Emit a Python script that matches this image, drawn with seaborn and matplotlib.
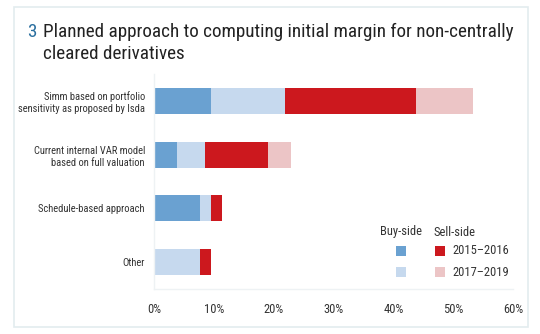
import matplotlib
matplotlib.use("Agg")
import matplotlib.pyplot as plt
import seaborn as sns
import pandas as pd
import numpy as np
from matplotlib.patches import Rectangle
from matplotlib import font_manager

categories = ["Simm based on portfolio\nsensitivity as proposed by Isda",
              "Current internal VAR model\nbased on full valuation",
              "Schedule-based approach",
              "Other"]
buy_2015_2016 = [9.5, 3.8, 7.7, 0.0]
buy_2017_2019 = [12.4, 4.7, 1.8, 7.7]
sell_2015_2016 = [21.9, 10.5, 1.9, 1.8]
sell_2017_2019 = [9.5, 3.9, 0.0, 0.0]
series_names = ["Buy-side 2015–2016", "Buy-side 2017–2019",
                "Sell-side 2015–2016", "Sell-side 2017–2019"]
x_ticks = [0, 10, 20, 30, 40, 50, 60]
x_tick_labels = ["0%", "10%", "20%", "30%", "40%", "50%", "60%"]

colors = ["#6aa1d1", "#c6d9ee", "#cc181e", "#ecc5c6"]
text_color = "#333333"

sns.set_theme(style="white")
avail = {f.name for f in font_manager.fontManager.ttflist}
fam = [f for f in ["Liberation Sans Narrow", "Roboto Condensed", "DejaVu Sans Condensed", "DejaVu Sans"] if f in avail]
plt.rcParams["font.family"] = fam

fig = plt.figure(figsize=(5.4, 3.34), dpi=100)
ax = fig.add_axes([154/540, 1-289/334, (513-154)/540, (289-74)/334])

series = [buy_2015_2016, buy_2017_2019, sell_2015_2016, sell_2017_2019]
cum = np.cumsum(np.array(series), axis=0)
for i in range(len(series) - 1, -1, -1):
    df = pd.DataFrame({"cat": categories, "val": cum[i]})
    sns.barplot(data=df, y="cat", x="val", orient="h", color=colors[i],
                width=0.48, ax=ax, saturation=1, linewidth=0)

ax.set_xlim(0, 60)
ax.set_ylim(3.5, -0.5)
ax.set_xticks(x_ticks)
ax.set_xticklabels(x_tick_labels, fontsize=9, color=text_color)
ax.set_yticklabels(categories, fontsize=7.6, color=text_color, linespacing=1.25)
ax.set_xlabel("")
ax.set_ylabel("")
ax.tick_params(axis="y", length=0, pad=6.5)
ax.tick_params(axis="x", length=0, pad=10)
for s in ["top", "right"]:
    ax.spines[s].set_visible(False)
for s in ["left", "bottom"]:
    ax.spines[s].set_color("#eef2f4")
    ax.spines[s].set_linewidth(1)

# frame
fig.patches.append(Rectangle((14/540, 1-327/334), (528-14)/540, (327-7)/334,
                             transform=fig.transFigure, fill=False,
                             edgecolor="#e3ecef", linewidth=1.2))

# title
fig.text(27/540, 1-32/334, "3", fontsize=13.8, color="#2a6f9f", va="center", ha="left")
fig.text(43/540, 1-32/334, "Planned approach to computing initial margin for non-centrally",
         fontsize=13.8, color="#222222", va="center", ha="left")
fig.text(43/540, 1-54/334, "cleared derivatives",
         fontsize=13.8, color="#222222", va="center", ha="left")

# legend
fig.text(401/540, 1-232/334, "Buy-side", fontsize=9, color=text_color, ha="center", va="center")
fig.text(434/540, 1-232/334, "Sell-side", fontsize=9, color=text_color, ha="left", va="center")
sq = 10
for (x, y), c in zip([(401, 251), (401, 272), (440, 251), (440, 272)], colors):
    fig.patches.append(Rectangle(((x - sq/2)/540, 1-(y + sq/2)/334), sq/540, sq/334,
                                 transform=fig.transFigure, color=c, linewidth=0))
fig.text(452/540, 1-251/334, "2015–2016", fontsize=9, color=text_color, ha="left", va="center")
fig.text(452/540, 1-272/334, "2017–2019", fontsize=9, color=text_color, ha="left", va="center")

fig.savefig("out.png", dpi=100)
